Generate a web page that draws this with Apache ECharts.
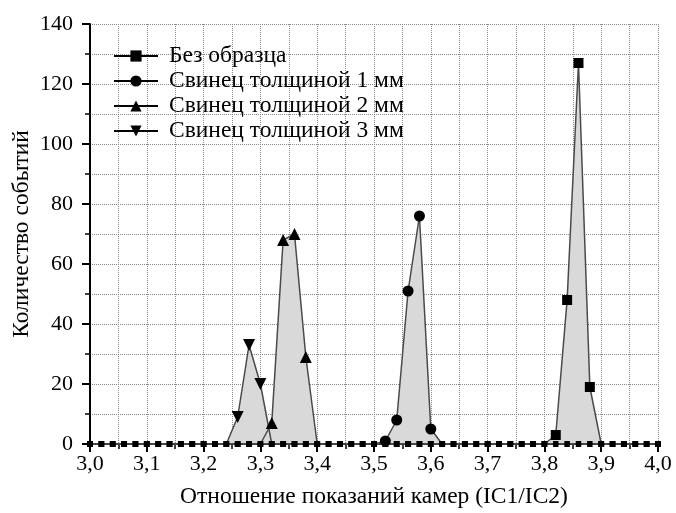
<!DOCTYPE html>
<html>
<head>
<meta charset="utf-8">
<script src="https://cdn.jsdelivr.net/npm/echarts@6/dist/echarts.min.js"></script>
<style>
  html, body { margin: 0; padding: 0; background: #fff; }
  #main { width: 676px; height: 513px; }
</style>
</head>
<body>
<div id="main"></div>
<script>
var myChart = echarts.init(document.getElementById('main'));

// отношение IC1/IC2 (шаг 0,02)
var ratio = [3.00, 3.02, 3.04, 3.06, 3.08, 3.10, 3.12, 3.14, 3.16, 3.18,
             3.20, 3.22, 3.24, 3.26, 3.28, 3.30, 3.32, 3.34, 3.36, 3.38,
             3.40, 3.42, 3.44, 3.46, 3.48, 3.50, 3.52, 3.54, 3.56, 3.58,
             3.60, 3.62, 3.64, 3.66, 3.68, 3.70, 3.72, 3.74, 3.76, 3.78,
             3.80, 3.82, 3.84, 3.86, 3.88, 3.90, 3.92, 3.94, 3.96, 3.98,
             4.00];

var seriesNames = ['Без образца', 'Свинец толщиной 1 мм', 'Свинец толщиной 2 мм', 'Свинец толщиной 3 мм'];

var noSample = [0, 0, 0, 0, 0, 0, 0, 0, 0, 0,
                0, 0, 0, 0, 0, 0, 0, 0, 0, 0,
                0, 0, 0, 0, 0, 0, 0, 0, 0, 0,
                0, 0, 0, 0, 0, 0, 0, 0, 0, 0,
                0, 3, 48, 127, 19, 0, 0, 0, 0, 0,
                0];
var lead1mm = [0, 0, 0, 0, 0, 0, 0, 0, 0, 0,
               0, 0, 0, 0, 0, 0, 0, 0, 0, 0,
               0, 0, 0, 0, 0, 0, 1, 8, 51, 76,
               5, 0, 0, 0, 0, 0, 0, 0, 0, 0,
               0, 0, 0, 0, 0, 0, 0, 0, 0, 0,
               0];
var lead2mm = [0, 0, 0, 0, 0, 0, 0, 0, 0, 0,
               0, 0, 0, 0, 0, 0, 7, 68, 70, 29,
               0, 0, 0, 0, 0, 0, 0, 0, 0, 0,
               0, 0, 0, 0, 0, 0, 0, 0, 0, 0,
               0, 0, 0, 0, 0, 0, 0, 0, 0, 0,
               0];
var lead3mm = [0, 0, 0, 0, 0, 0, 0, 0, 0, 0,
               0, 0, 0, 9, 33, 20, 0, 0, 0, 0,
               0, 0, 0, 0, 0, 0, 0, 0, 0, 0,
               0, 0, 0, 0, 0, 0, 0, 0, 0, 0,
               0, 0, 0, 0, 0, 0, 0, 0, 0, 0,
               0];

var FONT = 'Liberation Serif';

function pairs(vals) {
  return ratio.map(function (x, i) { return [x, vals[i]]; });
}

function makeSeries(name, vals, symbol, size, rotate) {
  return {
    name: name,
    type: 'line',
    data: pairs(vals),
    symbol: symbol,
    symbolRotate: rotate || 0,
    symbolSize: function (v) { return v[1] > 0 ? size : 6; },
    itemStyle: { color: '#000' },
    lineStyle: { color: '#4a4a4a', width: 1.5 },
    areaStyle: { color: '#d9d9d9', opacity: 1 },
    z: 3
  };
}

var option = {
  backgroundColor: '#fff',
  animation: false,
  grid: { left: 90, right: 18, top: 24, bottom: 69, outerBoundsMode: 'none' },
  legend: {
    orient: 'vertical',
    left: 113,
    top: 44,
    padding: 0,
    itemWidth: 44,
    itemHeight: 14,
    itemGap: 1,
    lineStyle: { color: '#000', width: 2 },
    textStyle: { fontFamily: FONT, fontSize: 23.5, color: '#000', padding: [0, 0, 0, 6] },
    data: seriesNames
  },
  xAxis: {
    type: 'value',
    min: 3,
    max: 4,
    interval: 0.1,
    name: 'Отношение показаний камер (IC1/IC2)',
    nameLocation: 'middle',
    nameGap: 41,
    nameMoveOverlap: false,
    nameTextStyle: { fontFamily: FONT, fontSize: 23.5, color: '#000' },
    axisLine: { lineStyle: { color: '#000', width: 2 } },
    axisTick: { length: 8, lineStyle: { color: '#000', width: 2 } },
    minorTick: { show: true, splitNumber: 2, length: 5, lineStyle: { color: '#000', width: 1.5 } },
    splitLine: { show: true, lineStyle: { color: '#888', type: 'dotted', width: 1 } },
    minorSplitLine: { show: true, lineStyle: { color: '#888', type: 'dotted', width: 1 } },
    axisLabel: {
      fontFamily: FONT, fontSize: 22, color: '#000', margin: 9,
      formatter: function (v) { return v.toFixed(1).replace('.', ','); }
    }
  },
  yAxis: {
    type: 'value',
    min: 0,
    max: 140,
    interval: 20,
    name: 'Количество событий',
    nameLocation: 'middle',
    nameGap: 56,
    nameMoveOverlap: false,
    nameTextStyle: { fontFamily: FONT, fontSize: 23.5, color: '#000' },
    axisLine: { show: true, lineStyle: { color: '#000', width: 2 } },
    axisTick: { show: true, length: 8, lineStyle: { color: '#000', width: 2 } },
    minorTick: { show: true, splitNumber: 2, length: 5, lineStyle: { color: '#000', width: 1.5 } },
    splitLine: { show: true, lineStyle: { color: '#888', type: 'dotted', width: 1 } },
    minorSplitLine: { show: true, lineStyle: { color: '#888', type: 'dotted', width: 1 } },
    axisLabel: { fontFamily: FONT, fontSize: 22, color: '#000', margin: 17 }
  },
  series: [
    makeSeries(seriesNames[0], noSample, 'rect', 10),
    makeSeries(seriesNames[1], lead1mm, 'circle', 11),
    makeSeries(seriesNames[2], lead2mm, 'triangle', 12),
    makeSeries(seriesNames[3], lead3mm, 'triangle', 12, 180)
  ]
};

myChart.setOption(option);
</script>
</body>
</html>
